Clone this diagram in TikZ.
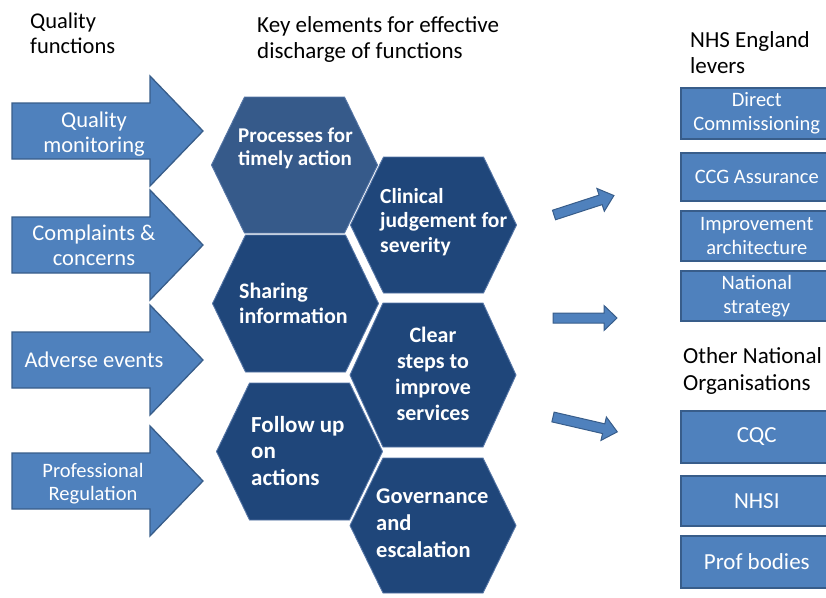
\documentclass[tikz,border=0pt]{standalone}
\usepackage{fontspec}
\setmainfont{Carlito}
\definecolor{blockblue}{HTML}{4F81BD}
\definecolor{blockedge}{HTML}{385D8A}
\definecolor{hexnavy}{HTML}{1F467A}
\definecolor{hexslate}{HTML}{365A8A}
\definecolor{hexrim}{HTML}{5676A6}
% flat-topped hexagon: centre x, centre y, half height, fill colour
\newcommand\hexcell[4]{%
  \path[fill=#4, draw=hexrim, line width=0.9pt, line join=round]
    (#1-83,#2) -- (#1-50,#2-#3) -- (#1+50,#2-#3) -- (#1+83,#2)
    -- (#1+50,#2+#3) -- (#1-50,#2+#3) -- cycle;}
% wide block arrow pointing right, centred on a given height
\newcommand\bigarrow[1]{%
  \path[fill=blockblue, draw=blockedge, line width=1.3pt, line join=miter]
    (12,#1-28) -- (150,#1-28) -- (150,#1-55) -- (203,#1)
    -- (150,#1+55) -- (150,#1+28) -- (12,#1+28) -- cycle;}
\begin{document}
\begin{tikzpicture}[x=1pt,y=-1pt,
  % multi-line texts are placed by the baseline of their last line
  heading/.style={font=\fontsize{23}{26}\selectfont, text=black, inner sep=0pt, align=left, anchor=base west},
  arrowtext/.style={text=white, inner sep=0pt, align=center, anchor=base},
  hextext/.style={text=white, inner sep=0pt, font=\bfseries},
  lever/.style={fill=blockblue, draw=blockedge, line width=1.6pt, anchor=north west,
    minimum width=152pt, text=white, align=center, inner sep=0pt,
    font=\fontsize{20.5}{24}\selectfont},
  org/.style={lever, font=\fontsize{23}{27}\selectfont},
  pointer/.style={fill=blockblue, draw=blockedge, line width=1pt, line join=miter}]
\useasboundingbox (0,0) rectangle (826,597);
\clip (0,0) rectangle (826,597);

% column headings
\node[heading, font=\fontsize{22.5}{25}\selectfont] (qf) at (30,53) {Quality\\functions};
\node[heading] (ke) at (257,58) {Key elements for effective\\discharge of functions};
\node[heading] (nhse) at (690,73) {NHS England\\levers};
\node[heading, font=\fontsize{23}{27}\selectfont] (ono) at (683,390) {Other National\\Organisations};

% quality functions
\bigarrow{131}
\bigarrow{245}
\bigarrow{360}
\bigarrow{481}
\node[arrowtext, font=\fontsize{22.5}{25}\selectfont] (qm) at (94,152) {Quality\\monitoring};
\node[arrowtext, font=\fontsize{22.5}{25}\selectfont] (cc) at (94,265) {Complaints \&\\concerns};
\node[arrowtext, font=\fontsize{22.5}{25}\selectfont] (ae) at (94,367) {Adverse events};
\node[arrowtext, font=\fontsize{20.5}{23}\selectfont] (pr) at (93,500) {Professional\\Regulation};

% key elements
\hexcell{294.5}{165}{68}{hexslate}
\hexcell{433.5}{225}{68}{hexnavy}
\hexcell{295.5}{303.5}{68.5}{hexnavy}
\hexcell{433}{375}{72}{hexnavy}
\hexcell{299.5}{451.5}{68.5}{hexnavy}
\hexcell{433}{525.5}{67.5}{hexnavy}
\node[hextext, align=left, anchor=base west, font=\bfseries\fontsize{21}{23.5}\selectfont] (pta) at (238,165.5) {Processes for\\timely action};
\node[hextext, align=left, anchor=base west, font=\bfseries\fontsize{21.5}{24.5}\selectfont] (cjs) at (380,252) {Clinical\\judgement for\\severity};
\node[hextext, align=left, anchor=base west, font=\bfseries\fontsize{22}{25}\selectfont] (si) at (239,323) {Sharing\\information};
\node[hextext, align=center, anchor=base, font=\bfseries\fontsize{22}{25.7}\selectfont] (cs) at (433,420) {Clear\\steps to\\improve\\services};
\node[hextext, align=left, anchor=base west, font=\bfseries\fontsize{23}{26.5}\selectfont] (fu) at (251,485) {Follow up\\on\\actions};
\node[hextext, align=left, anchor=base west, font=\bfseries\fontsize{22.5}{27}\selectfont] (ge) at (376,557) {Governance\\and\\escalation};

% pointers towards the levers
\begin{scope}[shift={(554,215)}, rotate=18]
  \path[pointer] (0,-5) -- (49,-5) -- (49,-12) -- (63,0) -- (49,12) -- (49,5) -- (0,5) -- cycle;
  \coordinate (p1) at (63,0);
\end{scope}
\begin{scope}[shift={(553,318)}]
  \path[pointer] (0,-5) -- (51,-5) -- (51,-12.5) -- (64,0) -- (51,12.5) -- (51,5) -- (0,5) -- cycle;
  \coordinate (p2) at (64,0);
\end{scope}
\begin{scope}[shift={(553,417)}, rotate=-13]
  \path[pointer] (0,-5) -- (52,-5) -- (52,-12) -- (66,0) -- (52,12) -- (52,5) -- (0,5) -- cycle;
  \coordinate (p3) at (66,0);
\end{scope}

% NHS England levers
\node[lever, minimum height=51pt] (dc) at (680,87) {Direct\\Commissioning};
\node[lever, minimum height=48pt] (ccg) at (680,152) {CCG Assurance};
\node[lever, minimum height=50pt] (ia) at (680,210) {Improvement\\architecture};
\node[lever, minimum height=50pt] (ns) at (680,270) {National\\strategy};

% other national organisations
\node[org, minimum height=52pt] (cqc) at (680,410) {CQC};
\node[org, minimum height=50pt] (nhsi) at (680,475) {NHSI};
\node[org, minimum height=52pt] (pb) at (680,535) {Prof bodies};
\end{tikzpicture}
\end{document}
